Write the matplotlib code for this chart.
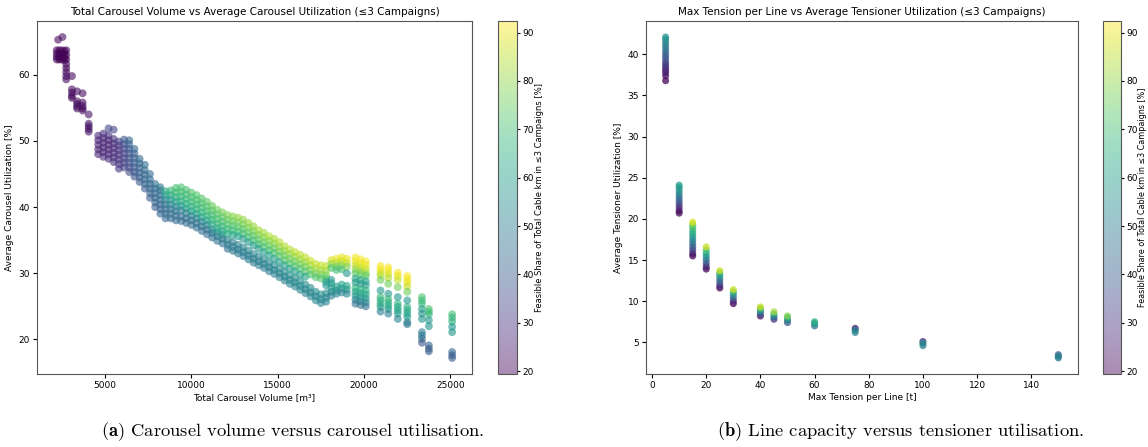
import numpy as np
import matplotlib
matplotlib.use('Agg')
import matplotlib.pyplot as plt

plt.rcParams['mathtext.fontset'] = 'cm'

# colour scale of both panels
share_min = 19.4
share_max = 92.4

# ---- left panel: carousel volume [m3] vs utilisation [%], one column per volume
# (volume, utilisation values, share values)
carousel_cols = [
    (2280, [65.3], [22]),
    (2530, [65.7], [22]),
    (2200, [63.7, 63.2, 62.7, 62.3], [20, 20, 20, 20]),
    (2350, [63.7, 63.2, 62.7, 62.3], [20, 20, 20, 20]),
    (2500, [63.7, 63.2, 62.7, 62.3], [20, 20, 20, 20]),
    (2650, [63.6, 63.1, 62.6, 62.2], [20, 20, 20, 20]),
    (2750, [63.7, 63.0, 62.3, 61.6, 61.0, 60.4, 59.8, 59.3], [20, 20, 20, 21, 21, 21, 21, 21]),
    (3080, [59.8, 57.8, 57.3, 56.8, 56.5], [21, 21, 21, 21, 21]),
    (3380, [57.5, 56.0, 55.6, 55.2, 54.9], [22, 22, 22, 22, 22]),
    (3700, [57.2, 55.8, 55.3, 54.9, 54.6], [22, 22, 22, 22, 22]),
    (4050, [54.0, 52.6, 52.2, 51.8, 51.4], [23, 23, 23, 23, 23]),
    (4600, [48.0, 48.7, 49.4, 50.1, 50.8], [27, 26, 27, 26, 28]),
    (4900, [47.6, 48.3, 49.0, 49.7, 50.4, 51.1], [28, 27, 26, 27, 26, 29]),
    (5200, [47.3, 48.0, 48.7, 49.4, 50.1, 50.8, 51.9], [29, 28, 27, 27, 26, 28, 34]),
    (5500, [46.8, 47.5, 48.2, 48.9, 49.6, 50.3, 51.7], [30, 29, 28, 28, 27, 29, 34]),
    (5800, [45.8, 46.5, 47.2, 47.9, 48.6, 49.3, 49.9], [31, 30, 30, 29, 29, 30, 32]),
    (6100, [46.0, 46.7, 47.4, 48.1, 48.8, 49.5, 50.2], [33, 32, 32, 33, 34, 35, 38]),
    (6400, [45.3, 46.0, 46.7, 47.4, 48.1, 48.8, 49.5, 50.1], [36, 35, 36, 37, 38, 39, 40, 42]),
    (6700, [44.6, 45.3, 46.0, 46.7, 47.4, 48.1, 48.8], [38, 38, 39, 40, 40, 41, 43]),
    (7000, [43.8, 44.5, 45.2, 45.9, 46.6, 47.3], [40, 40, 41, 42, 42, 44]),
    (7300, [42.8, 43.5, 44.2, 44.9, 45.6, 46.4], [41, 42, 42, 43, 44, 45]),
    (7600, [41.4, 42.1, 42.8, 43.5, 44.2, 45.0], [41, 42, 43, 43, 44, 45]),
    (7900, [40.0, 40.7, 41.4, 42.1, 42.8, 43.5], [41, 42, 42, 43, 44, 45]),
    (8200, [39.0, 39.7, 40.4, 41.1, 41.8, 42.5, 43.0], [42, 42, 43, 44, 45, 46, 48]),
    (8500, [38.3, 39.0, 39.7, 40.4, 41.1, 41.8, 42.4], [43, 43, 44, 46, 50, 58, 64]),
    (8800, [42.5, 41.8, 41.1, 40.4, 39.7, 39.0, 38.3], [68, 64, 58, 52, 47, 45, 44]),
    (9100, [42.9, 42.2, 41.5, 40.8, 40.1, 39.4, 38.7, 38.0], [70, 69, 66, 60, 54, 47, 45, 44]),
    (9400, [43.0, 42.3, 41.6, 40.9, 40.2, 39.5, 38.6, 37.9], [71, 70, 68, 65, 58, 50, 45, 44]),
    (9700, [42.6, 41.9, 41.2, 40.5, 39.8, 39.1, 38.3, 37.6], [71, 70, 68, 66, 60, 50, 45, 44]),
    (10000, [42.2, 41.5, 40.8, 40.1, 39.4, 38.7, 38.0, 37.3], [72, 71, 69, 66, 62, 52, 46, 45]),
    (10300, [41.8, 41.1, 40.4, 39.7, 39.0, 38.3, 37.6, 36.9], [72, 71, 69, 67, 62, 52, 46, 45]),
    (10600, [41.3, 40.6, 39.9, 39.2, 38.5, 37.8, 37.1, 36.4], [73, 71, 70, 67, 62, 52, 47, 45]),
    (10900, [40.8, 40.1, 39.4, 38.7, 38.0, 37.3, 36.6, 35.9], [74, 72, 70, 67, 62, 52, 47, 45]),
    (11200, [40.2, 39.5, 38.8, 38.1, 37.4, 36.6, 36.1, 35.4], [75, 73, 70, 68, 63, 55, 47, 46]),
    (11500, [39.6, 38.9, 38.2, 37.5, 36.8, 36.2, 35.6, 34.9], [76, 73, 71, 68, 64, 58, 48, 47]),
    (11800, [39.2, 38.5, 37.8, 37.1, 36.4, 35.8, 35.2, 34.5], [77, 74, 71, 68, 64, 58, 48, 47]),
    (12100, [38.8, 38.1, 37.4, 36.7, 36.0, 35.0, 34.3, 33.7], [78, 75, 72, 69, 65, 50, 48, 47]),
    (12400, [38.6, 37.9, 37.2, 36.5, 35.8, 34.7, 34.0, 33.4], [79, 76, 72, 69, 62, 50, 49, 48]),
    (12700, [38.4, 37.7, 37.0, 36.3, 35.6, 34.3, 33.6, 33.0], [80, 77, 73, 70, 60, 51, 49, 48]),
    (13000, [38.1, 37.4, 36.7, 36.0, 35.2, 33.9, 33.2, 32.6], [80, 77, 73, 70, 58, 51, 50, 49]),
    (13300, [37.6, 36.9, 36.2, 35.5, 34.7, 33.4, 32.7, 32.1], [81, 78, 74, 70, 58, 52, 50, 49]),
    (13600, [37.1, 36.4, 35.7, 35.0, 34.2, 32.9, 32.2, 31.6], [81, 78, 74, 70, 58, 52, 50, 49]),
    (13900, [36.5, 35.8, 35.1, 34.4, 33.7, 32.5, 31.8, 31.2], [82, 78, 74, 70, 58, 52, 51, 50]),
    (14200, [36.1, 35.4, 34.7, 34.0, 33.2, 32.1, 31.4, 30.8], [82, 79, 75, 71, 60, 53, 51, 50]),
    (14500, [35.6, 34.9, 34.2, 33.5, 32.7, 31.6, 30.9, 30.3], [83, 79, 75, 71, 60, 53, 51, 50]),
    (14800, [35.2, 34.5, 33.8, 33.1, 32.2, 31.2, 30.5, 29.9], [83, 80, 75, 71, 60, 54, 52, 51]),
    (15100, [34.7, 34.0, 33.3, 32.6, 31.7, 30.7, 30.0, 29.4], [84, 80, 76, 72, 60, 54, 52, 51]),
    (15400, [34.1, 33.4, 32.7, 32.0, 31.2, 30.2, 29.5, 28.9], [84, 80, 76, 72, 60, 54, 52, 51]),
    (15700, [33.6, 32.9, 32.2, 31.5, 30.7, 29.7, 29.0, 28.4], [84, 80, 76, 72, 60, 55, 53, 52]),
    (16000, [33.2, 32.5, 31.8, 31.1, 30.3, 29.3, 28.6, 28.0], [85, 81, 76, 72, 60, 55, 53, 52]),
    (16300, [32.8, 32.1, 31.4, 30.7, 29.8, 28.8, 28.1, 27.5], [85, 81, 76, 72, 60, 55, 53, 52]),
    (16600, [32.4, 31.7, 31.0, 30.3, 29.5, 28.3, 27.6, 27.0], [85, 81, 76, 72, 62, 55, 53, 52]),
    (16900, [31.9, 31.2, 30.5, 29.8, 27.8, 27.1, 26.5], [86, 82, 77, 72, 55, 53, 52]),
    (17200, [31.4, 30.7, 30.0, 29.4, 27.2, 26.5, 25.9], [86, 82, 77, 72, 55, 53, 52]),
    (17500, [31.2, 30.5, 29.8, 29.2, 26.8, 26.1, 25.5], [86, 82, 77, 72, 55, 53, 52]),
    (17800, [31.1, 30.4, 29.7, 29.2, 28.7, 28.2, 27.0, 26.3, 25.7], [86, 82, 77, 72, 60, 58, 55, 53, 52]),
    (18100, [32.0, 31.4, 30.8, 29.0, 28.5, 27.8, 27.2, 26.6], [88, 80, 72, 58, 60, 58, 54, 50]),
    (18400, [32.2, 31.6, 31.0, 30.5, 28.0, 27.4, 26.9], [90, 84, 76, 70, 60, 56, 52]),
    (18700, [32.4, 31.8, 31.2, 30.6, 28.3, 27.7, 27.1], [90, 86, 78, 70, 62, 58, 52]),
    (19000, [32.2, 31.6, 31.0, 30.0, 28.1, 27.5, 26.9], [90, 86, 78, 58, 62, 58, 52]),
    (19500, [32.4, 31.8, 31.2, 30.6, 30.0, 29.2, 28.6, 27.8, 27.2, 26.6, 26.0, 25.4],
     [91, 90, 86, 80, 74, 62, 58, 66, 62, 58, 52, 46]),
    (19800, [32.1, 31.5, 30.9, 30.3, 29.8, 29.0, 28.4, 27.6, 27.0, 26.4, 25.8, 25.2],
     [91, 90, 86, 80, 74, 62, 58, 66, 62, 58, 52, 46]),
    (20100, [31.8, 31.2, 30.6, 30.0, 29.6, 28.8, 28.2, 27.4, 26.8, 26.2, 25.6, 25.0],
     [91, 90, 86, 80, 74, 62, 58, 66, 62, 58, 52, 46]),
    (20950, [31.1, 30.6, 30.1, 29.7, 29.0, 27.4, 26.4, 25.9, 25.4, 24.9, 24.2],
     [92, 91, 88, 84, 76, 58, 68, 66, 64, 60, 50]),
    (21400, [30.9, 30.4, 29.9, 29.3, 28.4, 26.9, 26.1, 25.6, 25.1, 24.6, 23.9],
     [92, 91, 88, 84, 76, 58, 68, 66, 64, 60, 50]),
    (21950, [30.1, 29.6, 29.0, 27.9, 26.4, 25.4, 24.9, 24.4, 23.9, 23.1],
     [92, 90, 86, 76, 58, 66, 64, 62, 60, 52]),
    (22500, [29.6, 29.1, 28.6, 28.0, 27.2, 25.9, 24.9, 24.4, 23.9, 23.4, 22.6, 22.3],
     [92, 91, 90, 86, 76, 58, 66, 64, 62, 60, 52, 48]),
    (23350, [26.4, 25.9, 25.4, 24.6, 23.9, 23.1, 21.1, 20.6, 20.1, 19.5],
     [72, 70, 68, 60, 56, 56, 50, 48, 46, 38]),
    (23750, [24.6, 24.2, 23.8, 22.9, 22.0, 19.1, 18.6, 18.2],
     [72, 70, 68, 58, 56, 42, 40, 40]),
    (25100, [23.8, 23.3, 22.7, 21.9, 21.1, 18.1, 17.6, 17.2],
     [70, 68, 66, 58, 58, 42, 40, 40]),
]

# ---- right panel: max tension per line [t] vs tensioner utilisation [%]
tension_cols = [
    (5, [36.8, 37.4, 37.8, 38.1, 38.4, 38.7, 39.0, 39.4, 39.8, 40.2, 40.6, 41.0, 41.4, 41.8, 42.1],
     [20, 21, 24, 26, 28, 30, 33, 36, 39, 42, 45, 48, 51, 54, 57]),
    (10, [20.7, 21.0, 21.4, 21.8, 22.2, 22.6, 23.0, 23.4, 23.8, 24.1],
     [20, 22, 26, 32, 38, 44, 50, 55, 58, 60]),
    (15, [15.5, 15.8, 16.2, 16.6, 17.0, 17.4, 17.8, 18.2, 18.6, 19.0, 19.3, 19.6],
     [20, 24, 32, 38, 44, 50, 56, 62, 66, 70, 76, 88]),
    (20, [13.9, 14.2, 14.6, 15.0, 15.4, 15.8, 16.2, 16.6], [20, 26, 36, 44, 54, 62, 70, 86]),
    (25, [11.6, 11.9, 12.3, 12.7, 13.1, 13.4, 13.7], [20, 28, 38, 46, 56, 66, 86]),
    (30, [9.7, 10.0, 10.4, 10.8, 11.1, 11.4], [20, 28, 40, 52, 66, 86]),
    (40, [8.2, 8.5, 8.8, 9.1, 9.3], [22, 40, 55, 70, 86]),
    (45, [7.8, 8.1, 8.4, 8.7], [30, 45, 62, 82]),
    (50, [7.4, 7.7, 8.0, 8.2], [40, 50, 65, 78]),
    (60, [7.0, 7.3, 7.5], [48, 56, 66]),
    (75, [6.7, 6.5, 6.2], [24, 50, 52]),
    (100, [5.1, 4.9, 4.6], [28, 55, 50]),
    (150, [3.5, 3.3, 3.1], [40, 52, 50]),
]

cbar_label = 'Feasible Share of Total Cable km in ≤3 Campaigns [%]'
cbar_ticks = [20, 30, 40, 50, 60, 70, 80, 90]


def flatten(cols):
    xs, ys, cs = [], [], []
    for x, yl, cl in cols:
        for y, c in zip(yl, cl):
            xs.append(x)
            ys.append(y)
            cs.append(c)
    return np.array(xs), np.array(ys), np.array(cs)


fig = plt.figure(figsize=(11.48, 4.47), dpi=100)
fs = 6.5

# left
vx, vy, vc = flatten(carousel_cols)
ax1 = fig.add_axes([0.0322, 0.1633, 0.3789, 0.7897])
sc1 = ax1.scatter(vx, vy, c=vc, cmap='viridis', vmin=share_min, vmax=share_max,
                  s=32, alpha=0.6, edgecolors='none')
ax1.set_title('Total Carousel Volume vs Average Carousel Utilization (≤3 Campaigns)', fontsize=7.5, pad=4)
ax1.set_xlabel('Total Carousel Volume [m³]', fontsize=fs, labelpad=2)
ax1.set_ylabel('Average Carousel Utilization [%]', fontsize=fs, labelpad=3)
ax1.tick_params(labelsize=fs, length=3, pad=2)
ax1.set_yticks([20, 30, 40, 50, 60])
cax1 = fig.add_axes([0.4338, 0.1633, 0.0166, 0.7897])
cb1 = fig.colorbar(sc1, cax=cax1)
cb1.solids.set_alpha(0.45)
cb1.set_ticks(cbar_ticks)
cb1.ax.tick_params(labelsize=fs, length=2.5, pad=1.2)
cb1.set_label(cbar_label, fontsize=6, labelpad=1)

# right
tx, ty, tc = flatten(tension_cols)
ax2 = fig.add_axes([0.5627, 0.1633, 0.3763, 0.7897])
sc2 = ax2.scatter(tx, ty, c=tc, cmap='viridis', vmin=share_min, vmax=share_max,
                  s=26, alpha=0.75, edgecolors='none')
ax2.set_title('Max Tension per Line vs Average Tensioner Utilization (≤3 Campaigns)', fontsize=7.5, pad=4)
ax2.set_xlabel('Max Tension per Line [t]', fontsize=fs, labelpad=2)
ax2.set_ylabel('Average Tensioner Utilization [%]', fontsize=fs, labelpad=3)
ax2.tick_params(labelsize=fs, length=3, pad=2)
cax2 = fig.add_axes([0.9608, 0.1633, 0.0157, 0.7897])
cb2 = fig.colorbar(sc2, cax=cax2)
cb2.solids.set_alpha(0.45)
cb2.set_ticks(cbar_ticks)
cb2.ax.tick_params(labelsize=fs, length=2.5, pad=1.2)
cb2.set_label(cbar_label, fontsize=5.8, labelpad=0.5)

for a in [ax1, ax2, cax1, cax2]:
    for sp in a.spines.values():
        sp.set_color('#555555')

# sub captions
fig.text(0.2548, 0.034, r'$\mathbf{(a)}$ Carousel volume versus carousel utilisation.',
         family='cmr10', fontsize=13.3, ha='center', va='center')
fig.text(0.784, 0.034, r'$\mathbf{(b)}$ Line capacity versus tensioner utilisation.',
         family='cmr10', fontsize=13.3, ha='center', va='center')

plt.savefig('out.png', dpi=100)
